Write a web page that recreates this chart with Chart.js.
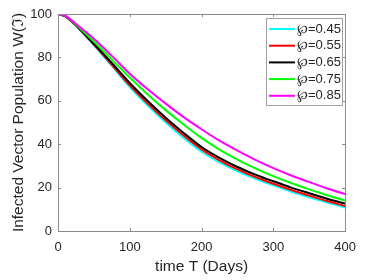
<!DOCTYPE html>
<html>
<head>
<meta charset="utf-8">
<script src="https://cdn.jsdelivr.net/npm/chart.js@4.4.1/dist/chart.umd.min.js"></script>
<style>
  html, body { margin: 0; padding: 0; background: #fff; }
</style>
</head>
<body>
<canvas id="myChart" width="365" height="280"></canvas>
<script>
// time in days
var days = [0, 10, 25, 50, 75, 100, 125, 150, 175, 200, 225, 250, 275, 300, 325, 350, 375, 400];

// W(ℑ) for each value of ℘
var wp045 = [100, 98.9, 94.6, 85.6, 76.1, 66.3, 57.8, 50.0, 42.9, 36.5, 31.6, 27.5, 24.1, 21.0, 18.1, 15.5, 13.1, 10.8];
var wp055 = [100, 98.9, 94.7, 85.9, 76.6, 67.1, 58.7, 51.0, 44.0, 37.6, 32.6, 28.4, 24.9, 21.8, 18.9, 16.3, 13.8, 11.5];
var wp065 = [100, 99.0, 94.8, 86.3, 77.4, 68.2, 59.9, 52.2, 45.2, 38.7, 33.7, 29.5, 26.0, 22.9, 20.0, 17.4, 14.9, 12.6];
var wp075 = [100, 99.1, 95.1, 87.3, 79.1, 70.7, 62.9, 55.7, 49.1, 42.9, 37.5, 32.9, 28.9, 25.3, 22.1, 19.2, 16.5, 14.0];
var wp085 = [100, 99.2, 95.4, 88.6, 80.7, 72.5, 65.3, 58.7, 52.5, 46.9, 41.6, 37.0, 32.8, 29.0, 25.6, 22.5, 19.6, 17.0];

var seriesLabels = ['\u2118=0.45', '\u2118=0.55', '\u2118=0.65', '\u2118=0.75', '\u2118=0.85'];
var seriesValues = [wp045, wp055, wp065, wp075, wp085];
var seriesColors = ['#00ffff', '#ff0000', '#000000', '#00ff00', '#ff00ff'];

var xTicks = [0, 100, 200, 300, 400];
var yTicks = [0, 20, 40, 60, 80, 100];

var fontFamily = '"Liberation Sans", Arial, Helvetica, sans-serif';
var axisColor = '#8c8c8c';
var textColor = '#262626';

function toPoints (values) {
	return values.map(function (v, i) {
		return { x: days[i], y: v };
	});
}

// box around the axes, inward ticks on all four sides, legend inside the plot
var framePlugin = {
	id: 'frame',
	afterDatasetsDraw: function (chart) {
		var ctx = chart.ctx,
				a = chart.chartArea,
				xs = chart.scales.x,
				ys = chart.scales.y,
				tl = 3;

		ctx.save();
		ctx.strokeStyle = axisColor;
		ctx.lineWidth = 1;
		ctx.strokeRect(Math.round(a.left) + 0.5, Math.round(a.top) + 0.5,
			Math.round(a.right - a.left), Math.round(a.bottom - a.top));

		ctx.beginPath();
		xTicks.forEach(function (t) {
			var px = Math.round(xs.getPixelForValue(t)) + 0.5;
			ctx.moveTo(px, a.bottom); ctx.lineTo(px, a.bottom - tl);
			ctx.moveTo(px, a.top); ctx.lineTo(px, a.top + tl);
		});
		yTicks.forEach(function (t) {
			var py = Math.round(ys.getPixelForValue(t)) + 0.5;
			ctx.moveTo(a.left, py); ctx.lineTo(a.left + tl, py);
			ctx.moveTo(a.right, py); ctx.lineTo(a.right - tl, py);
		});
		ctx.stroke();

		// legend
		var bx = 266, by = 18, bw = 76, bh = 87, row = 16.7;
		ctx.fillStyle = '#ffffff';
		ctx.fillRect(bx, by, bw, bh);
		ctx.strokeStyle = '#a0a0a0';
		ctx.strokeRect(bx + 0.5, by + 0.5, bw, bh);

		ctx.font = '13px ' + fontFamily;
		ctx.textBaseline = 'middle';
		ctx.textAlign = 'left';
		chart.data.datasets.forEach(function (ds, i) {
			var cy = by + 11 + i * row;
			ctx.strokeStyle = ds.borderColor;
			ctx.lineWidth = 2;
			ctx.beginPath();
			ctx.moveTo(bx + 3, cy);
			ctx.lineTo(bx + 29, cy);
			ctx.stroke();
			ctx.fillStyle = textColor;
			ctx.fillText(ds.label, bx + 31, cy);
		});
		ctx.restore();
	}
};

var ctx = document.getElementById('myChart');

var datasets = seriesValues.map(function (values, i) {
	return {
		label: seriesLabels[i],
		data: toPoints(values),
		borderColor: seriesColors[i],
		backgroundColor: seriesColors[i],
		borderWidth: 2,
		pointRadius: 0,
		fill: false,
		cubicInterpolationMode: 'monotone',
		order: seriesValues.length - i
	};
});

window.myLineChart = new Chart(ctx, {
	type: 'line',
	data: { datasets: datasets },
	options: {
		responsive: false,
		animation: false,
		devicePixelRatio: 1,
		layout: { padding: { top: 14, right: 17, left: 0, bottom: 0 } },
		plugins: {
			legend: { display: false },
			tooltip: { enabled: false }
		},
		scales: {
			x: {
				type: 'linear',
				min: 0,
				max: 400,
				afterFit: function (scale) { scale.height = 49; },
				afterBuildTicks: function (scale) {
					scale.ticks = xTicks.map(function (v) { return { value: v }; });
				},
				grid: { display: false, drawTicks: false },
				border: { display: false },
				ticks: { color: textColor, padding: 9, maxRotation: 0, font: { size: 13, family: fontFamily } },
				title: {
					display: true,
					text: 'time T (Days)',
					color: textColor,
					padding: { top: 0, bottom: 4 },
					font: { size: 15.5, family: fontFamily }
				}
			},
			y: {
				min: 0,
				max: 100,
				afterFit: function (scale) { scale.width = 58; },
				afterBuildTicks: function (scale) {
					scale.ticks = yTicks.map(function (v) { return { value: v }; });
				},
				grid: { display: false, drawTicks: false },
				border: { display: false },
				ticks: { color: textColor, padding: 6, font: { size: 13, family: fontFamily } },
				title: {
					display: true,
					text: 'Infected Vector Population W(\u2111)',
					color: textColor,
					padding: { top: 9, bottom: 0 },
					font: { size: 15.5, family: fontFamily }
				}
			}
		}
	},
	plugins: [framePlugin]
});
</script>
</body>
</html>
